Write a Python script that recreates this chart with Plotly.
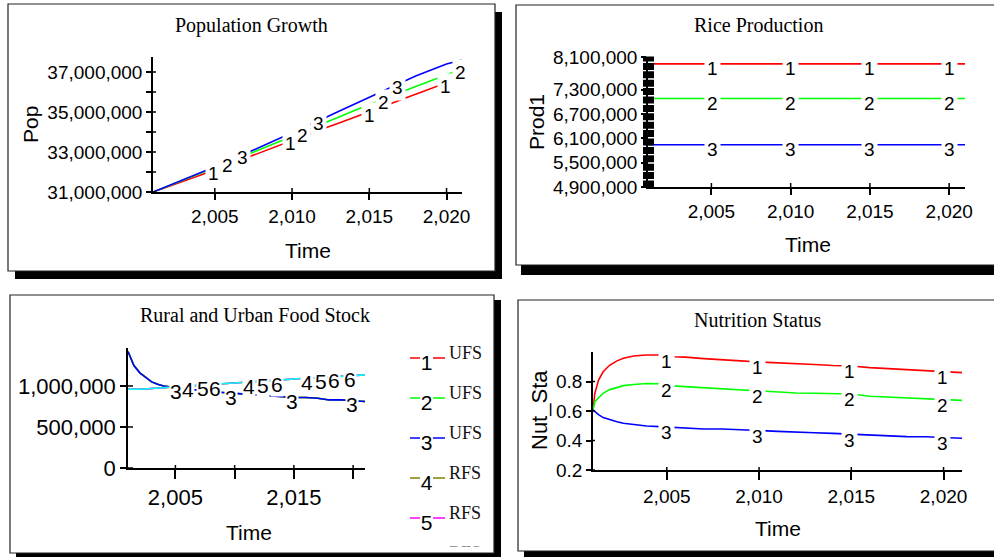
import numpy as np
import plotly.graph_objects as go

W, H = 994, 557
def px(x): return x / W
def py(y): return 1 - y / H

SANS = "Liberation Sans, Arial, sans-serif"
SERIF = "Liberation Serif, Times New Roman, serif"
COL = {1: "#ff0000", 2: "#00ff00", 3: "#0000ff", 4: "#808000", 5: "#ff00ff", 6: "#00ffff"}

# ---------------- data ----------------
years = list(range(2001, 2022))

# Population Growth (millions)
pop_1 = [31.00, 31.27, 31.55, 31.82, 32.10, 32.40, 32.70, 33.00, 33.30, 33.60, 33.88,
         34.16, 34.44, 34.72, 35.00, 35.30, 35.60, 35.88, 36.17, 36.46, 36.75]
pop_2 = [31.00, 31.30, 31.60, 31.90, 32.20, 32.52, 32.84, 33.15, 33.46, 33.78, 34.10,
         34.42, 34.74, 35.06, 35.38, 35.68, 35.98, 36.28, 36.58, 36.87, 37.15]
pop_3 = [31.00, 31.31, 31.62, 31.93, 32.25, 32.58, 32.92, 33.26, 33.60, 33.95, 34.30,
         34.66, 35.02, 35.38, 35.75, 36.10, 36.45, 36.80, 37.10, 37.40, 37.60]
pop_label_x = {1: [2004.9, 2009.9, 2015.0, 2019.95], 2: [2005.85, 2010.65, 2015.9, 2020.9],
               3: [2006.8, 2011.7, 2016.8]}
pop_ticks = [31, 32, 33, 34, 35, 36, 37]
pop_ticktext = ["31,000,000", "", "33,000,000", "", "35,000,000", "", "37,000,000"]

# Rice Production
prod_1 = [7.93] * 21
prod_2 = [7.08] * 21
prod_3 = [5.94] * 21
prod_label_x = [2005.1, 2010.0, 2014.95, 2020.0]
prod_ticks = [4.9, 5.5, 6.1, 6.7, 7.3, 8.1]
prod_ticktext = ["4,900,000", "5,500,000", "6,100,000", "6,700,000", "7,300,000", "8,100,000"]

# Rural and Urban Food Stock (millions)
fs_years_a = [2001, 2001.5, 2002, 2002.5, 2003, 2003.5, 2004] + list(range(2005, 2022))
ufs_3 = [1.42, 1.25, 1.16, 1.10, 1.05, 1.02, 1.00, 0.98, 0.96, 0.95, 0.93, 0.92, 0.91,
         0.90, 0.89, 0.88, 0.87, 0.86, 0.86, 0.85, 0.83, 0.83, 0.82, 0.81]
ufs_1 = ufs_3
ufs_2 = ufs_3
rfs_6 = [0.96, 0.96, 0.97, 0.98, 0.99, 1.00, 1.01, 1.02, 1.03, 1.035, 1.045, 1.055, 1.065,
         1.075, 1.085, 1.095, 1.10, 1.11, 1.12, 1.13, 1.135]
rfs_4 = rfs_6
rfs_5 = rfs_6
fs_label_x = {3: [2005.05, 2009.65, 2014.8, 2019.9], 4: [2006.1, 2011.2, 2016.1],
              5: [2007.3, 2012.4, 2017.3], 6: [2008.3, 2013.6, 2018.4, 2019.7]}
fs_ticks = [0, 0.5, 1.0]
fs_ticktext = ["0", "500,000", "1,000,000"]
legend_names = ["UFS", "UFS", "UFS", "RFS", "RFS", "RFS"]

# Nutrition Status
nut_years = [2001, 2001.1, 2001.3, 2001.55, 2001.9, 2002.3, 2002.65, 2003.2, 2003.9, 2004.6,
             2005.3] + list(range(2006, 2022))
nut_1 = [0.607, 0.72, 0.81, 0.866, 0.91, 0.94, 0.957, 0.973, 0.98, 0.98, 0.968, 0.965, 0.955,
         0.945, 0.94, 0.932, 0.928, 0.92, 0.915, 0.908, 0.905, 0.894, 0.888, 0.88, 0.872,
         0.866, 0.86]
nut_2 = [0.607, 0.663, 0.69, 0.72, 0.745, 0.762, 0.772, 0.78, 0.786, 0.785, 0.77, 0.765, 0.757,
         0.75, 0.743, 0.735, 0.728, 0.722, 0.72, 0.718, 0.715, 0.70, 0.695, 0.688, 0.686,
         0.68, 0.672]
nut_3 = [0.607, 0.595, 0.575, 0.555, 0.54, 0.527, 0.517, 0.507, 0.498, 0.494, 0.49, 0.485,
         0.478, 0.478, 0.475, 0.468, 0.462, 0.455, 0.453, 0.448, 0.442, 0.437, 0.432, 0.426,
         0.425, 0.42, 0.415]
nut_label_x = [2005.0, 2009.9, 2014.9, 2019.95]
nut_ticks = [0.2, 0.4, 0.6, 0.8]

year_ticks = [2005, 2010, 2015, 2020]
year_ticktext = ["2,005", "2,010", "2,015", "2,020"]

# ---------------- layout geometry (px) ----------------
PANELS = {
    1: dict(x=(153, 462), y=(192, 57), xr=(2001, 2021), yr=(31e6, 37.75e6)),
    2: dict(x=(648, 965), y=(187, 57), xr=(2001, 2021), yr=(4.9e6, 8.1e6)),
    3: dict(x=(128, 365), y=(468, 348), xr=(2001, 2021), yr=(0, 1.463e6)),
    4: dict(x=(593, 962), y=(470, 352), xr=(2001, 2021), yr=(0.2, 1.0)),
}

fig = go.Figure()

def line_trace(k, xs, ys, color):
    sfx = "" if k == 1 else str(k)
    fig.add_trace(go.Scatter(x=xs, y=ys, mode="lines", xaxis="x" + sfx, yaxis="y" + sfx,
                             line=dict(color=color, width=1.6), showlegend=False,
                             hoverinfo="skip"))

annotations = []
def label(k, x, xs, ys, text, size=19, yshift=-4, pad=2):
    sfx = "" if k == 1 else str(k)
    annotations.append(dict(x=x, y=float(np.interp(x, xs, ys)), xref="x" + sfx, yref="y" + sfx,
                            text=text, showarrow=False, yshift=yshift, bgcolor="white",
                            borderpad=pad, font=dict(family=SANS, size=size, color="black")))

# Panel 1
for s, ys in ((1, pop_1), (2, pop_2), (3, pop_3)):
    line_trace(1, years, [v * 1e6 for v in ys], COL[s])
for s, ys in ((1, pop_1), (2, pop_2), (3, pop_3)):
    for lx in pop_label_x[s]:
        label(1, lx, years, [v * 1e6 for v in ys], str(s), yshift=-3)

# Panel 2
for s, ys in ((1, prod_1), (2, prod_2), (3, prod_3)):
    line_trace(2, years, [v * 1e6 for v in ys], COL[s])
    for lx in prod_label_x:
        label(2, lx, years, [v * 1e6 for v in ys], str(s), yshift=-5)

# Panel 3
fs_series = {1: (fs_years_a, ufs_1), 2: (fs_years_a, ufs_2), 3: (fs_years_a, ufs_3),
             4: (years, rfs_4), 5: (years, rfs_5), 6: (years, rfs_6)}
for s in range(1, 7):
    xs, ys = fs_series[s]
    line_trace(3, xs, [v * 1e6 for v in ys], COL[s])
lab3 = []
for s in (3, 4, 5, 6):
    xs, ys = fs_series[s]
    for lx in fs_label_x[s]:
        lab3.append((lx, s, xs, ys))
for lx, s, xs, ys in sorted(lab3):
    label(3, lx, xs, [v * 1e6 for v in ys], str(s), size=21, yshift=-4, pad=0)

# Panel 4
for s, ys in ((1, nut_1), (2, nut_2), (3, nut_3)):
    line_trace(4, nut_years, ys, COL[s])
    for lx in nut_label_x:
        label(4, lx, nut_years, ys, str(s), yshift=-6)

# Legend of panel 3 (clipped subplot; only the top of the 6th entry shows)
for i in range(5):
    yl = 358 + 40 * i
    fig.add_trace(go.Scatter(x=[410, 420, None, 433, 445], y=[yl, yl, None, yl, yl],
                             mode="lines", xaxis="x5", yaxis="y5",
                             line=dict(color=COL[i + 1], width=1.6),
                             showlegend=False, hoverinfo="skip"))
fig.add_trace(go.Scatter(x=[426.5] * 5, y=[365 + 40 * i for i in range(5)], mode="text",
                         text=[str(i + 1) for i in range(5)], xaxis="x5", yaxis="y5",
                         textfont=dict(family=SANS, size=21, color="black"),
                         textposition="middle center", showlegend=False, hoverinfo="skip"))
fig.add_trace(go.Scatter(x=[449] * 6, y=[354 + 40 * i for i in range(6)], mode="text",
                         text=legend_names, xaxis="x5", yaxis="y5",
                         textfont=dict(family=SERIF, size=18, color="#111"),
                         textposition="middle right", showlegend=False, hoverinfo="skip"))

# ---------------- axes ----------------
def mkaxis(dom, rng, tickvals, ticktext, size, ticklen, anchor):
    return dict(domain=dom, range=rng, tickmode="array", tickvals=tickvals, ticktext=ticktext,
                ticks="outside", ticklen=ticklen, tickwidth=1.5, tickcolor="black",
                showline=True, linecolor="black", linewidth=1.5, showgrid=False,
                zeroline=False, automargin=False, fixedrange=True, anchor=anchor,
                tickfont=dict(family=SANS, size=size, color="black"))

layout_axes = {}
ytick_spec = {
    1: ([v * 1e6 for v in pop_ticks], pop_ticktext, 19, 5),
    2: ([v * 1e6 for v in prod_ticks], prod_ticktext, 19, 5),
    3: ([v * 1e6 for v in fs_ticks], fs_ticktext, 22, 6),
    4: (nut_ticks, [f"{v:.1f}" for v in nut_ticks], 19, 5),
}
xtick_spec = {
    1: (year_ticks, year_ticktext, 19, 6),
    2: (year_ticks, year_ticktext, 19, 6),
    3: (year_ticks, ["2,005", "", "2,015", ""], 22, 9),
    4: (year_ticks, year_ticktext, 19, 8),
}
for k, p in PANELS.items():
    sfx = "" if k == 1 else str(k)
    xd = [px(p["x"][0]), px(p["x"][1])]
    yd = [py(p["y"][0]), py(p["y"][1])]
    tv, tt, fs, tl = xtick_spec[k]
    layout_axes["xaxis" + sfx] = mkaxis(xd, list(p["xr"]), tv, tt, fs, tl, "y" + sfx)
    tv, tt, fs, tl = ytick_spec[k]
    layout_axes["yaxis" + sfx] = mkaxis(yd, list(p["yr"]), tv, tt, fs, tl, "x" + sfx)

layout_axes["xaxis5"] = dict(domain=[px(400), px(494)], range=[400, 494], visible=False,
                             anchor="y5", fixedrange=True)
layout_axes["yaxis5"] = dict(domain=[py(546.5), py(330)], range=[546.5, 330], visible=False,
                             anchor="x5", fixedrange=True)

# ---------------- shapes ----------------
shapes = []
def rect(x0, y0, x1, y1, fill, lw=0, lc="black"):
    shapes.append(dict(type="rect", xref="paper", yref="paper", x0=px(x0), x1=px(x1),
                       y0=py(y1), y1=py(y0), fillcolor=fill, layer="below",
                       line=dict(width=lw, color=lc)))

# shadows then boxes
rect(15, 12, 502, 279, "black")
rect(8, 4, 495, 271, "white", 1.2, "#222")
rect(521, 12, 1005, 275, "black")
rect(516, 5, 1000, 265, "white", 1.2, "#222")
rect(16, 300, 501, 561, "black")
rect(10, 295, 494, 553, "white", 1.2, "#222")
rect(524, 306, 1005, 561, "black")
rect(518, 300, 1000, 551, "white", 1.2, "#222")

def seg(x0, y0, x1, y1, w=1.5, color="black", dash=None):
    ln = dict(color=color, width=w)
    if dash:
        ln["dash"] = dash
    shapes.append(dict(type="line", xref="paper", yref="paper", x0=px(x0), x1=px(x1),
                       y0=py(y0), y1=py(y1), line=ln, layer="above"))

def xpix(k, v):
    p = PANELS[k]
    return p["x"][0] + (v - p["xr"][0]) / (p["xr"][1] - p["xr"][0]) * (p["x"][1] - p["x"][0])

def ypix(k, v):
    p = PANELS[k]
    return p["y"][0] + (v - p["yr"][0]) / (p["yr"][1] - p["yr"][0]) * (p["y"][1] - p["y"][0])

# inner halves of crossing ticks
inner = {1: (4, 3), 2: (4, 0), 3: (3, 5), 4: (3, 2)}
for k in PANELS:
    ix, iy = inner[k]
    for v in year_ticks:
        xx = xpix(k, v)
        seg(xx, PANELS[k]["y"][0], xx, PANELS[k]["y"][0] - ix)
    if iy:
        yvals = ytick_spec[k][0]
        for v in yvals:
            yy = ypix(k, v)
            seg(PANELS[k]["x"][0], yy, PANELS[k]["x"][0] + iy, yy)

# black square column on the Rice Production axis
seg(648.5, 187.5, 648.5, 56.5, w=11, dash="7px,1.4px")

# ---------------- text ----------------
def text(x, y, s, size, family, anchor="center", angle=0):
    annotations.append(dict(x=px(x), y=py(y), xref="paper", yref="paper", text=s,
                            showarrow=False, xanchor=anchor, yanchor="middle",
                            textangle=angle, font=dict(family=family, size=size, color="black")))

text(251, 25, "Population Growth", 20, SERIF)
text(692, 25, "Rice Production", 20, SERIF, anchor="left")
text(138, 315, "Rural and Urban Food Stock", 20, SERIF, anchor="left")
text(757, 320, "Nutrition Status", 20, SERIF)

text(308, 250, "Time", 21, SANS)
text(808, 245, "Time", 21, SANS)
text(249, 532, "Time", 21, SANS)
text(778, 528, "Time", 21, SANS)

text(30, 125, "Pop", 21, SANS, angle=-90)
text(536, 122, "Prod1", 21, SANS, angle=-90)
text(539, 410, "Nut_Sta", 22, SANS, angle=-90)

fig.update_layout(width=W, height=H, margin=dict(l=0, r=0, t=0, b=0), autosize=False,
                  template="none", paper_bgcolor="white", plot_bgcolor="rgba(0,0,0,0)",
                  showlegend=False, shapes=shapes, annotations=annotations,
                  font=dict(family=SANS, color="black"), **layout_axes)

fig.write_html("out.html")
